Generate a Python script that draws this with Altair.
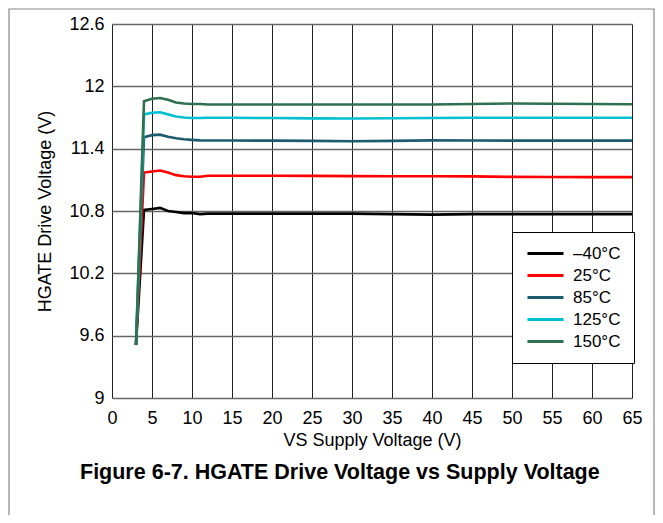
import altair as alt
import pandas as pd

# ---- data ----
vs = [3, 4, 5, 6, 7, 8, 9, 10, 11, 12, 15, 20, 25, 30, 35, 40, 45, 50, 55, 60, 65]

t_m40 = [9.51, 10.81, 10.82, 10.83, 10.80, 10.79, 10.78, 10.78, 10.77, 10.775, 10.775, 10.775,
         10.775, 10.775, 10.77, 10.765, 10.77, 10.77, 10.77, 10.77, 10.77]
t_25 = [9.51, 11.17, 11.18, 11.19, 11.17, 11.145, 11.135, 11.13, 11.13, 11.14, 11.14, 11.14,
        11.138, 11.136, 11.135, 11.135, 11.133, 11.128, 11.127, 11.126, 11.126]
t_85 = [9.51, 11.51, 11.53, 11.535, 11.515, 11.50, 11.49, 11.485, 11.48, 11.478, 11.478, 11.477,
        11.475, 11.472, 11.475, 11.48, 11.478, 11.477, 11.477, 11.477, 11.477]
t_125 = [9.51, 11.73, 11.745, 11.75, 11.73, 11.71, 11.70, 11.695, 11.695, 11.697, 11.697, 11.695,
         11.692, 11.69, 11.693, 11.695, 11.697, 11.697, 11.697, 11.697, 11.697]
t_150 = [9.51, 11.856, 11.88, 11.888, 11.87, 11.845, 11.835, 11.83, 11.83, 11.825, 11.825, 11.825,
         11.825, 11.825, 11.825, 11.825, 11.83, 11.835, 11.833, 11.83, 11.828]

series_names = ["\u201340\u00b0C", "25\u00b0C", "85\u00b0C", "125\u00b0C", "150\u00b0C"]
series_vals = [t_m40, t_25, t_85, t_125, t_150]
series_colors = ["#000000", "#ff0000", "#1d5b6f", "#00bfd0", "#2f7050"]

x_ticks = [0, 5, 10, 15, 20, 25, 30, 35, 40, 45, 50, 55, 60, 65]
y_ticks = [9, 9.6, 10.2, 10.8, 11.4, 12, 12.6]

caption = "Figure 6-7. HGATE Drive Voltage vs Supply Voltage"
x_title = "VS Supply Voltage (V)"
y_title = "HGATE Drive Voltage (V)"

rows = []
for i, (name, vals) in enumerate(zip(series_names, series_vals)):
    for x, y in zip(vs, vals):
        rows.append({"vs": x, "v": y, "series": name, "k": i})
df = pd.DataFrame(rows)

FONT = "Liberation Sans"

lines = alt.Chart(df).mark_line(strokeWidth=2.6, clip=True).encode(
    x=alt.X("vs:Q", scale=alt.Scale(domain=[0, 65], nice=False, zero=False),
            axis=alt.Axis(values=x_ticks, title=x_title, grid=True, ticks=False, domain=False,
                          labelFlush=False, gridColor="#222222", gridWidth=1, labelPadding=11,
                          titlePadding=4, labelFontSize=18, titleFontSize=18, labelFont=FONT,
                          titleFont=FONT, labelColor="#000", titleColor="#000",
                          titleFontWeight="normal")),
    y=alt.Y("v:Q", scale=alt.Scale(domain=[9, 12.6], nice=False, zero=False),
            axis=alt.Axis(values=y_ticks, title=y_title, grid=True, ticks=False, domain=False,
                          labelFlush=False, format="~g", gridColor="#666666", gridWidth=1.6,
                          labelPadding=8, titlePadding=14, labelFontSize=18, titleFontSize=18,
                          labelFont=FONT, titleFont=FONT, labelColor="#000", titleColor="#000",
                          titleFontWeight="normal")),
    color=alt.Color("series:N", sort=series_names,
                    scale=alt.Scale(domain=series_names, range=series_colors),
                    legend=alt.Legend(title=None, orient="none", legendX=400, legendY=208,
                                      symbolType="M-1,0H5", symbolSize=144, symbolStrokeWidth=3,
                                      labelFontSize=17, labelFont=FONT, labelColor="#000",
                                      labelOffset=31, padding=13, rowPadding=4,
                                      strokeColor="#000", fillColor="#fff",
                                      labelLimit=200)),
    detail="k:Q",
)

one = pd.DataFrame({"t": [caption]})
cap = alt.Chart(one).mark_text(font=FONT, fontSize=21.5, fontWeight="bold", align="left",
                               baseline="alphabetic", color="#000", clip=False).encode(
    text="t:N", x=alt.value(-32), y=alt.value(455))

frame = alt.Chart(one).mark_rect(fill=None, stroke="#888888", strokeWidth=1.2, clip=False).encode(
    x=alt.value(-103), x2=alt.value(542), y=alt.value(-15), y2=alt.value(520))

chart = alt.layer(frame, lines, cap).properties(
    width=520, height=374,
    padding={"left": 104, "top": 16, "right": 23, "bottom": 117},
    autosize=alt.AutoSizeParams(type="none"),
).configure_view(stroke="#000", strokeWidth=3).configure_legend(
    strokeWidth=2.5
).configure(background="white")

chart.save("out.html", embed_options={"renderer": "svg", "actions": False})
